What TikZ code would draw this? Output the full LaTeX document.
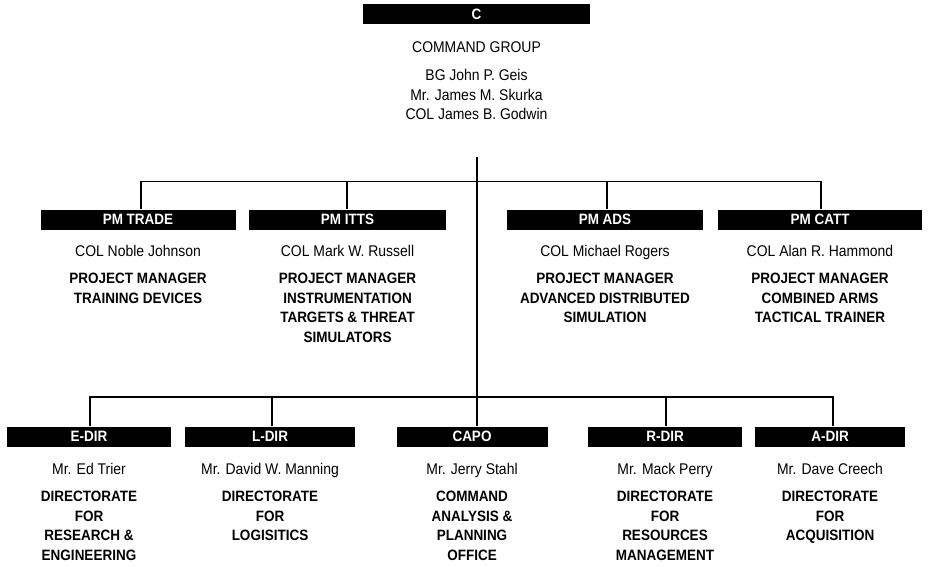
\documentclass[tikz,border=0pt]{standalone}
\usepackage{fontspec}
\setmainfont{Liberation Sans}[FakeStretch=0.9]
\begin{document}
\begin{tikzpicture}[x=1pt,y=-1pt,
  bar/.style={fill=black, minimum height=20pt, inner sep=0pt, text=white,
    font=\fontsize{15}{17}\bfseries\selectfont},
  who/.style={anchor=base, inner sep=0pt, font=\fontsize{15.5}{17}\selectfont},
  role/.style={anchor=base, inner sep=0pt, align=center,
    font=\fontsize{15}{19.7}\bfseries\selectfont},
  link/.style={line width=1.1pt}]
\useasboundingbox (0,0) rectangle (945,567);

% ---- command group (multi-line nodes: base = baseline of last line)
\node[bar, minimum width=227pt] (c) at (476.5,14.5) {C};
\node[who] (cg) at (476.5,52.5) {COMMAND GROUP};
\node[who, align=center, font=\fontsize{15.5}{19.5}\selectfont] (cgn) at (476.5,120)
  {BG John P. Geis\\Mr. James M. Skurka\\COL James B. Godwin};

% ---- project managers
\node[bar, minimum width=195pt] (trade) at (138,219.5) {PM TRADE};
\node[who] (trade-n) at (138,256.5) {COL Noble Johnson};
\node[role] (trade-r) at (138,303.2) {PROJECT MANAGER\\TRAINING DEVICES};

\node[bar, minimum width=197pt] (itts) at (347.5,219.5) {PM ITTS};
\node[who] (itts-n) at (347.5,256.5) {COL Mark W. Russell};
\node[role] (itts-r) at (347.5,342.6) {PROJECT MANAGER\\INSTRUMENTATION\\TARGETS \& THREAT\\SIMULATORS};

\node[bar, minimum width=196pt] (ads) at (605,219.5) {PM ADS};
\node[who] (ads-n) at (605,256.5) {COL Michael Rogers};
\node[role] (ads-r) at (605,322.9) {PROJECT MANAGER\\ADVANCED DISTRIBUTED\\SIMULATION};

\node[bar, minimum width=204pt] (catt) at (820,219.5) {PM CATT};
\node[who] (catt-n) at (820,256.5) {COL Alan R. Hammond};
\node[role] (catt-r) at (820,322.9) {PROJECT MANAGER\\COMBINED ARMS\\TACTICAL TRAINER};

% ---- directorates
\node[bar, minimum width=164pt] (edir) at (89,436.5) {E-DIR};
\node[who] (edir-n) at (89,474.5) {Mr. Ed Trier};
\node[role] (edir-r) at (89,560.6) {DIRECTORATE\\FOR\\RESEARCH \&\\ENGINEERING};

\node[bar, minimum width=170pt] (ldir) at (270,436.5) {L-DIR};
\node[who] (ldir-n) at (270,474.5) {Mr. David W. Manning};
\node[role] (ldir-r) at (270,540.9) {DIRECTORATE\\FOR\\LOGISITICS};

\node[bar, minimum width=151pt] (capo) at (472,436.5) {CAPO};
\node[who] (capo-n) at (472,474.5) {Mr. Jerry Stahl};
\node[role] (capo-r) at (472,560.6) {COMMAND\\ANALYSIS \&\\PLANNING\\OFFICE};

\node[bar, minimum width=154pt] (rdir) at (665,436.5) {R-DIR};
\node[who] (rdir-n) at (665,474.5) {Mr. Mack Perry};
\node[role] (rdir-r) at (665,560.6) {DIRECTORATE\\FOR\\RESOURCES\\MANAGEMENT};

\node[bar, minimum width=150pt] (adir) at (830,436.5) {A-DIR};
\node[who] (adir-n) at (830,474.5) {Mr. Dave Creech};
\node[role] (adir-r) at (830,540.9) {DIRECTORATE\\FOR\\ACQUISITION};

% ---- connectors
\coordinate (top) at (477,157);
\coordinate (d-trade) at (141,181.5);
\coordinate (d-itts) at (347,181.5);
\coordinate (d-ads) at (607,181.5);
\coordinate (d-catt) at (821,181.5);
\coordinate (d-edir) at (90,397);
\coordinate (d-ldir) at (272,397);
\coordinate (d-rdir) at (666,397);
\coordinate (d-adir) at (833,397);

\draw[link] (top) -- (top |- capo.north);
\draw[link] (d-trade |- trade.north) -- (d-trade) -- (d-catt) -- (d-catt |- catt.north);
\draw[link] (d-itts) -- (d-itts |- itts.north);
\draw[link] (d-ads) -- (d-ads |- ads.north);
\draw[link] (d-edir |- edir.north) -- (d-edir) -- (d-adir) -- (d-adir |- adir.north);
\draw[link] (d-ldir) -- (d-ldir |- ldir.north);
\draw[link] (d-rdir) -- (d-rdir |- rdir.north);
\end{tikzpicture}
\end{document}
